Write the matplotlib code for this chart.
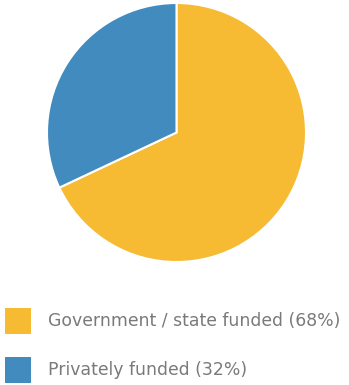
import matplotlib
matplotlib.use("Agg")
import matplotlib.pyplot as plt
from matplotlib.patches import Rectangle

labels = ["Government / state funded (68%)", "Privately funded (32%)"]
shares = [68, 32]
colors = ["#F6BA33", "#418BBF"]

W, H = 349, 385
fig = plt.figure(figsize=(W / 100, H / 100), dpi=100)

# pie axes placed in pixel terms
cx, cy, r = 176.5, 132.5, 129.5
ax = fig.add_axes([(cx - r) / W, (H - cy - r) / H, 2 * r / W, 2 * r / H])
ax.pie(shares, colors=colors, startangle=90, counterclock=False,
       wedgeprops=dict(edgecolor="white", linewidth=1.5))
ax.set_xlim(-1, 1)
ax.set_ylim(-1, 1)
ax.set_aspect("equal")
ax.axis("off")

# legend rows
box = 26
rows_top = [308, 357]
for lab, col, top in zip(labels, colors, rows_top):
    fig.patches.append(Rectangle((5 / W, (H - top - box) / H), box / W, box / H,
                                 transform=fig.transFigure, facecolor=col,
                                 edgecolor="none"))
    fig.text(48 / W, (H - top - box / 2) / H, lab, color="#7A7A7A",
             fontsize=12.45, family="DejaVu Sans", va="center", ha="left")

fig.savefig("out.png", dpi=100)
